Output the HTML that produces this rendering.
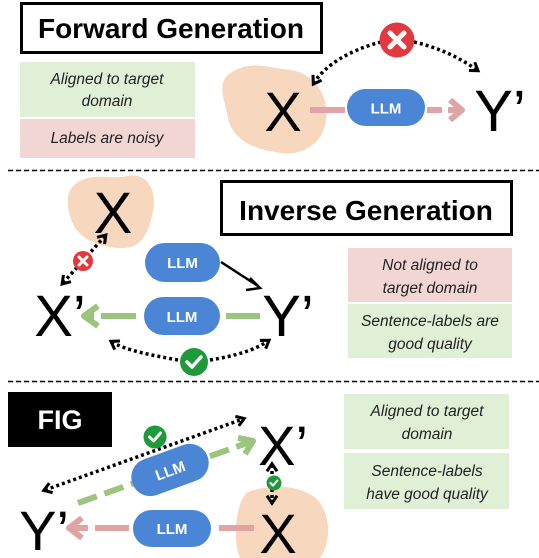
<!DOCTYPE html>
<html><head><style>
html,body{margin:0;padding:0;background:#fff;}
svg{display:block;font-family:"Liberation Sans",sans-serif;}
</style></head><body>
<svg width="539" height="558" viewBox="0 0 539 558" xmlns="http://www.w3.org/2000/svg">
<defs>
<marker id="ah" viewBox="0 0 10 10" refX="6" refY="5" markerWidth="3.6" markerHeight="3.6" orient="auto-start-reverse"><path d="M1,1 L7,5 L1,9" fill="none" stroke="#000" stroke-width="2.4"/></marker>
</defs>
<!-- Section 1 -->
<rect x="21.5" y="3.5" width="300" height="49" fill="#fff" stroke="#000" stroke-width="3"/>
<text x="171" y="38" font-size="28" font-weight="bold" text-anchor="middle">Forward Generation</text>
<rect x="20" y="62" width="175" height="55" fill="#e0f0d6"/>
<rect x="20" y="119" width="175" height="39" fill="#f2d6d4"/>
<g font-size="15.5" font-style="italic" fill="#222" text-anchor="middle">
<text x="107" y="84">Aligned to target</text>
<text x="107" y="106">domain</text>
<text x="107" y="143">Labels are noisy</text>
</g>
<path d="M232,72 C250,60 270,68 290,70 C312,72 330,95 326,120 C323,145 300,158 275,152 C250,148 232,138 228,118 C225,100 215,82 232,72Z" fill="#f7d7bd"/>
<text x="283" y="131" font-size="56" text-anchor="middle">X</text>
<line x1="310" y1="110" x2="345" y2="110" stroke="#e0a4a4" stroke-width="6"/>
<rect x="347" y="89" width="78" height="37" rx="18.5" fill="#4b86d6"/>
<text x="386" y="113.5" font-size="15" font-weight="bold" fill="#fff" text-anchor="middle">LLM</text>
<line x1="427" y1="110" x2="442" y2="110" stroke="#e0a4a4" stroke-width="6"/>
<line x1="448" y1="110" x2="462" y2="110" stroke="#e0a4a4" stroke-width="6"/>
<path d="M450,100 L462,110 L450,120" fill="none" stroke="#e0a4a4" stroke-width="6" stroke-linejoin="round"/>
<text x="500" y="131" font-size="58" text-anchor="middle">Y’</text>
<path d="M381,42 C350,50 325,65 314,83" fill="none" stroke="#000" stroke-width="3.5" stroke-dasharray="3 3" marker-end="url(#ah)"/>
<path d="M414,42 C440,48 460,58 477,70" fill="none" stroke="#000" stroke-width="3.5" stroke-dasharray="3 3" marker-end="url(#ah)"/>
<circle cx="397" cy="40" r="17.5" fill="#e03a3e"/>
<path d="M390,33 L404,47 M404,33 L390,47" stroke="#fff" stroke-width="5" stroke-linecap="round"/>
<line x1="8" y1="170.5" x2="539" y2="170.5" stroke="#000" stroke-width="1.5" stroke-dasharray="5 3"/>
<!-- Section 2 -->
<path d="M78,182 C95,172 110,180 128,176 C150,172 158,195 152,215 C148,235 140,250 118,248 C98,246 80,240 72,222 C66,205 65,190 78,182Z" fill="#f7d7bd"/>
<text x="113" y="233" font-size="58" text-anchor="middle">X</text>
<rect x="221.5" y="181.5" width="290" height="53" fill="#fff" stroke="#000" stroke-width="3"/>
<text x="366" y="220" font-size="28" font-weight="bold" text-anchor="middle">Inverse Generation</text>
<rect x="348" y="248" width="164" height="54" fill="#f2d6d4"/>
<rect x="348" y="304" width="164" height="54" fill="#e0f0d6"/>
<g font-size="15.5" font-style="italic" fill="#222" text-anchor="middle">
<text x="430" y="270">Not aligned to</text>
<text x="430" y="293">target domain</text>
<text x="430" y="326">Sentence-labels are</text>
<text x="430" y="349">good quality</text>
</g>
<line x1="105" y1="236" x2="63" y2="283" stroke="#000" stroke-width="3.5" stroke-dasharray="3 3" marker-start="url(#ah)" marker-end="url(#ah)"/>
<circle cx="83" cy="261" r="10" fill="#e03a3e"/>
<path d="M79,257 L87,265 M87,257 L79,265" stroke="#fff" stroke-width="3" stroke-linecap="round"/>
<rect x="145" y="243" width="75" height="39" rx="19.5" fill="#4b86d6"/>
<text x="182.5" y="268" font-size="15" font-weight="bold" fill="#fff" text-anchor="middle">LLM</text>
<line x1="221" y1="262" x2="258" y2="286" stroke="#000" stroke-width="2.5"/>
<path d="M250,278 L260,288 L246,290" fill="none" stroke="#000" stroke-width="2.5"/>
<text x="60" y="336" font-size="58" text-anchor="middle">X’</text>
<text x="288" y="336" font-size="58" text-anchor="middle">Y’</text>
<path d="M98,306 L84,316 L98,326" fill="none" stroke="#9cc47e" stroke-width="6" stroke-linejoin="round"/>
<line x1="84" y1="316" x2="94" y2="316" stroke="#9cc47e" stroke-width="6"/>
<line x1="101" y1="316" x2="136" y2="316" stroke="#9cc47e" stroke-width="6"/>
<rect x="144" y="297" width="76" height="38" rx="19" fill="#4b86d6"/>
<text x="182" y="322" font-size="15" font-weight="bold" fill="#fff" text-anchor="middle">LLM</text>
<line x1="226" y1="316" x2="260" y2="316" stroke="#9cc47e" stroke-width="6"/>
<path d="M178,360 C150,355 125,350 112,342" fill="none" stroke="#000" stroke-width="3.5" stroke-dasharray="3 3" marker-end="url(#ah)"/>
<path d="M210,360 C235,356 255,350 268,341" fill="none" stroke="#000" stroke-width="3.5" stroke-dasharray="3 3" marker-end="url(#ah)"/>
<circle cx="194" cy="362" r="14" fill="#1f9a3a"/>
<path d="M187,362 L192,367 L201,357" fill="none" stroke="#fff" stroke-width="3.5" stroke-linecap="round" stroke-linejoin="round"/>
<line x1="8" y1="381.5" x2="539" y2="381.5" stroke="#000" stroke-width="1.5" stroke-dasharray="5 3"/>
<!-- Section 3 -->
<rect x="8" y="392" width="104" height="55" fill="#000"/>
<text x="60" y="429" font-size="27" font-weight="bold" fill="#fff" text-anchor="middle">FIG</text>
<rect x="344" y="394" width="165" height="55" fill="#e0f0d6"/>
<rect x="344" y="453" width="165" height="56" fill="#e0f0d6"/>
<g font-size="15.5" font-style="italic" fill="#222" text-anchor="middle">
<text x="427" y="416">Aligned to target</text>
<text x="427" y="439">domain</text>
<text x="427" y="476">Sentence-labels</text>
<text x="427" y="499">have good quality</text>
</g>
<path d="M248,492 C270,484 300,484 318,500 C330,515 332,540 320,558 L240,558 C232,540 236,500 248,492Z" fill="#f7d7bd"/>
<text x="283" y="465" font-size="56" text-anchor="middle">X’</text>
<text x="278" y="553" font-size="56" text-anchor="middle">X</text>
<line x1="272" y1="465" x2="272" y2="502" stroke="#000" stroke-width="3.5" stroke-dasharray="3 3" marker-start="url(#ah)" marker-end="url(#ah)"/>
<circle cx="274" cy="483" r="7.5" fill="#1f9a3a"/>
<path d="M270.5,483 L273,485.5 L277.5,480.5" fill="none" stroke="#fff" stroke-width="2" stroke-linecap="round"/>
<line x1="78" y1="503" x2="250" y2="442" stroke="#9cc47e" stroke-width="6" stroke-dasharray="20 8"/>
<path d="M238,438 L253,441 L245,454" fill="none" stroke="#9cc47e" stroke-width="6" stroke-linejoin="round"/>
<g transform="translate(170,470) rotate(-20)">
<rect x="-40" y="-19" width="80" height="38" rx="19" fill="#4b86d6"/>
<text x="0" y="6" font-size="15" font-weight="bold" fill="#fff" text-anchor="middle">LLM</text>
</g>
<line x1="45" y1="490" x2="243" y2="419" stroke="#000" stroke-width="3.5" stroke-dasharray="3 3" marker-start="url(#ah)" marker-end="url(#ah)"/>
<circle cx="155" cy="437" r="11.5" fill="#1f9a3a"/>
<path d="M149.5,437 L153.5,441 L160.5,433" fill="none" stroke="#fff" stroke-width="3" stroke-linecap="round" stroke-linejoin="round"/>
<text x="44" y="550" font-size="56" text-anchor="middle">Y’</text>
<path d="M82,518 L69,528 L82,538" fill="none" stroke="#e0a4a4" stroke-width="6" stroke-linejoin="round"/>
<line x1="69" y1="528" x2="88" y2="528" stroke="#e0a4a4" stroke-width="6"/>
<line x1="95" y1="528" x2="129" y2="528" stroke="#e0a4a4" stroke-width="6"/>
<rect x="133" y="510" width="78" height="37" rx="18.5" fill="#4b86d6"/>
<text x="172" y="534" font-size="15" font-weight="bold" fill="#fff" text-anchor="middle">LLM</text>
<line x1="219" y1="528" x2="254" y2="528" stroke="#e0a4a4" stroke-width="6"/>
</svg>
</body></html>
